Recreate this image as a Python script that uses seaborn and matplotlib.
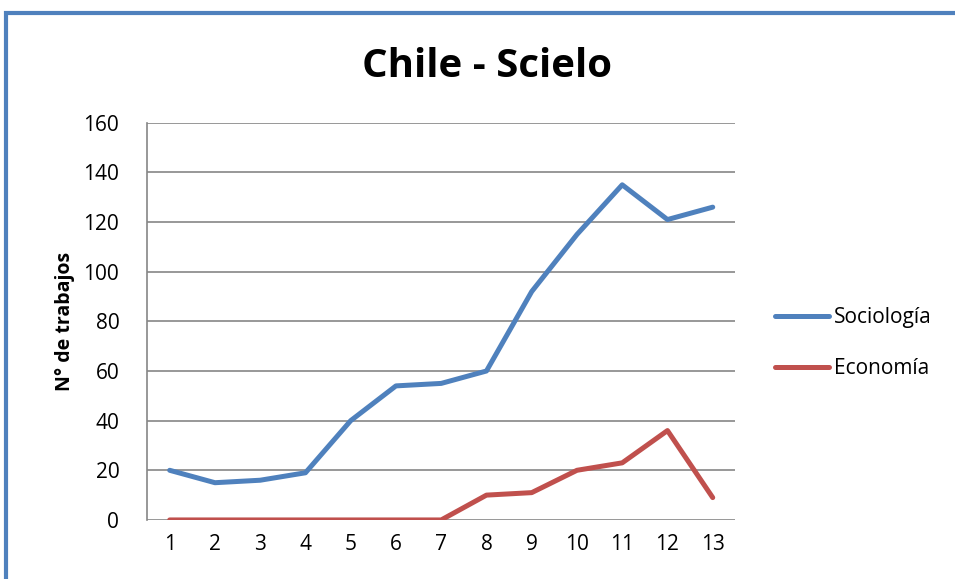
import seaborn as sns
import matplotlib.pyplot as plt
import pandas as pd
from matplotlib.patches import Rectangle

# datos
periodos = list(range(1, 14))
sociologia = [20, 15, 16, 19, 40, 54, 55, 60, 92, 115, 135, 121, 126]
economia = [0, 0, 0, 0, 0, 0, 0, 10, 11, 20, 23, 36, 9]
series = ['Sociología', 'Economía']
colores = ['#4F81BD', '#C0504D']

df = pd.DataFrame({
    'periodo': periodos * 2,
    'valor': sociologia + economia,
    'serie': [series[0]] * len(periodos) + [series[1]] * len(periodos),
})

sns.set_style('white')
plt.rcParams['font.family'] = ['Open Sans', 'DejaVu Sans']
plt.rcParams['text.color'] = 'black'
plt.rcParams['xtick.color'] = 'black'
plt.rcParams['ytick.color'] = 'black'
plt.rcParams['axes.labelcolor'] = 'black'

fig = plt.figure(figsize=(9.55, 5.79), dpi=100)
ax = fig.add_axes([0.154, 0.102, 0.616, 0.686])

sns.lineplot(data=df, x='periodo', y='valor', hue='serie', palette=colores,
             hue_order=series, linewidth=3.6, ax=ax, legend=True)

ax.set_xlim(0.5, 13.5)
ax.set_ylim(0, 160)
ax.set_yticks(range(0, 161, 20))
ax.set_xticks(periodos)
ax.grid(axis='y', color='#868686', linewidth=1.2)
ax.set_axisbelow(True)
for s in ['top', 'right', 'bottom']:
    ax.spines[s].set_visible(False)
ax.spines['left'].set_color('#868686')
ax.spines['left'].set_linewidth(1.2)
ax.tick_params(axis='both', length=0, labelsize=15, pad=10)
ax.tick_params(axis='y', pad=20)

ax.set_xlabel('')
ax.set_ylabel('N° de trabajos', fontsize=14, fontweight='bold', labelpad=6)
fig.text(0.51, 0.886, 'Chile - Scielo', fontsize=29, fontweight='bold',
         ha='center', va='center')

ax.legend(loc='center left', bbox_to_anchor=(1.036, 0.445), frameon=False,
          fontsize=15, handlelength=2.6, handletextpad=0.2, labelspacing=1.45)

# marco azul del gráfico (recortado)
fig.patches.append(Rectangle((0.006, -0.1), 1.1, 1.078, transform=fig.transFigure,
                             fill=False, edgecolor='#4F81BD', linewidth=3))

fig.savefig('out.png', dpi=100)
